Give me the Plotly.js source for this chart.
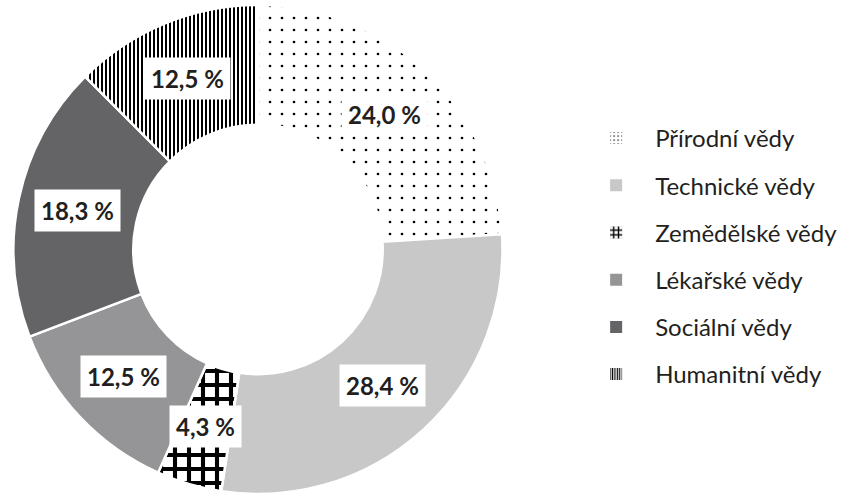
<!DOCTYPE html>
<html><head><meta charset="utf-8">
<script src="https://cdn.plot.ly/plotly-3.0.1.min.js"></script>
<style>html,body{margin:0;padding:0;background:#fff}</style>
</head><body><div id="chart" style="width:845px;height:494px"></div>
<script>
// ---- data ----
const categories = ["Přírodní vědy","Technické vědy","Zemědělské vědy","Lékařské vědy","Sociální vědy","Humanitní vědy"];
const shares = [24.0, 28.4, 4.3, 12.5, 18.3, 12.5];

// ---- styles ----
const fillColors = ["#ffffff","#c8c8c9","#ffffff","#959597","#646466","#ffffff"];
const patternShapes = [".","","+","","","|"];
const patternSizes = [12, 8, 14, 8, 8, 4];
const patternSolidity = [0.04, 0.3, 0.5, 0.3, 0.3, 0.5];
const legendPatternSizes = [5, 8, 6, 8, 8, 3];
const legendPatternSolidity = [0.12, 0.3, 0.5, 0.3, 0.3, 0.5];
const textColor = "#231f20";

const W = 845, H = 494;
const M = {l:0, r:0, t:5, b:0};
const pw = W - M.l - M.r, ph = H - M.t - M.b;
const cxPx = 258;
const R = Math.min(pw, ph) / 2;
const holeFrac = 0.51;
const domX = [(cxPx - R) / pw, (cxPx + R) / pw];

const fmt = v => v.toFixed(1).replace('.', ',') + ' %';
const total = shares.reduce((a,b)=>a+b,0);

const traces = [{
  type: 'pie',
  labels: categories,
  values: shares,
  sort: false,
  direction: 'clockwise',
  rotation: 0,
  hole: holeFrac,
  domain: {x: domX, y: [0,1]},
  textinfo: 'none',
  hoverinfo: 'skip',
  showlegend: false,
  marker: {
    colors: fillColors,
    line: {color: '#ffffff', width: 2.5},
    pattern: {shape: patternShapes, fgcolor: '#000000', bgcolor: fillColors, size: patternSizes, solidity: patternSolidity, fillmode: 'replace'}
  }
}];

// legend entries (one per category, separate groups for spacing)
categories.forEach((c, i) => {
  traces.push({
    type: 'bar', x: [null], y: [null], name: c,
    legendgroup: 'g' + i, showlegend: true, hoverinfo: 'skip',
    marker: {color: fillColors[i], line: {width: 0},
      pattern: {shape: patternShapes[i], fgcolor: '#000000', bgcolor: fillColors[i], size: legendPatternSizes[i], solidity: legendPatternSolidity[i]}}
  });
});

// value labels at the middle of each ring segment
const annotations = [];
let cum = 0;
const cyPx = M.t + ph / 2;
const rMid = R * (1 + holeFrac) / 2;
shares.forEach((v, i) => {
  const mid = (cum + v / 2) / total;
  cum += v;
  const th = 2 * Math.PI * mid;
  const px = cxPx + rMid * Math.sin(th);
  const py = cyPx - rMid * Math.cos(th);
  annotations.push({
    xref: 'paper', yref: 'paper',
    x: (px - M.l) / pw, y: 1 - (py - M.t) / ph,
    text: '<b>' + fmt(v) + '</b>', showarrow: false,
    font: {family: 'Lato', size: 24, color: textColor},
    bgcolor: '#ffffff', borderpad: 6, xanchor: 'center', yanchor: 'middle'
  });
});

const layout = {
  width: W, height: H, margin: M,
  paper_bgcolor: '#ffffff', plot_bgcolor: '#ffffff',
  xaxis: {visible: false}, yaxis: {visible: false},
  showlegend: true,
  legend: {
    x: 0.683, y: 0.773, xanchor: 'left', yanchor: 'top',
    traceorder: 'grouped', tracegroupgap: 13,
    itemwidth: 68,
    font: {family: 'Lato', size: 24, color: textColor},
    bgcolor: 'rgba(0,0,0,0)'
  },
  annotations: annotations
};

Plotly.newPlot('chart', traces, layout, {displayModeBar: false, staticPlot: true});
</script>
</body></html>
